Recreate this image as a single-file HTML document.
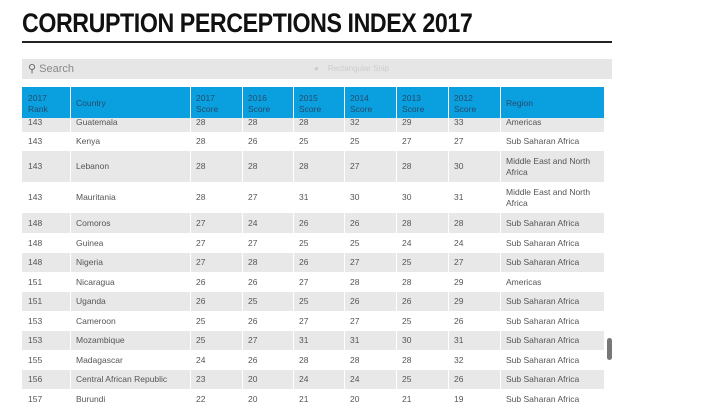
<!DOCTYPE html><html><head><style>
body{margin:0;width:720px;height:406px;overflow:hidden;background:#fff;font-family:"Liberation Sans",sans-serif;position:relative}
.t{position:absolute;left:22px;top:8px;font:bold 27px "Liberation Sans Narrow","Liberation Sans",sans-serif;letter-spacing:-0.5px;color:#111;transform:scaleX(0.86);transform-origin:left}
.ul{position:absolute;left:22px;top:41px;width:590px;height:2px;background:#222}
.sb{position:absolute;left:22px;top:59px;width:590px;height:20px;background:#e6e6e6;color:#888;font-size:11px;line-height:20px}
.wrap{position:absolute;left:22px;top:87px;width:582px;height:315px;overflow:hidden}
.r{position:absolute;left:0;width:582px;font-size:8.5px;color:#555}
.r div{position:absolute;top:0;height:100%;display:flex;align-items:center;padding-left:5px;box-sizing:border-box;line-height:11px;border-left:1px solid transparent}
.g{background:#e8e8e8}
.g div{border-left:1px solid #fff}
.h{background:#0aa0e0;color:#244a6a;top:0;height:31px;z-index:2}
.h div{border-left:1px solid #fff;padding-top:2px}
</style></head><body>
<div class="t">CORRUPTION PERCEPTIONS INDEX 2017</div>
<div class="ul"></div>
<div class="sb"><span style="margin-left:6px;color:#666">&#9906;</span> Search<span style="position:absolute;left:292px;color:#ccc;font-size:8px">&#9679;&nbsp;&nbsp;&nbsp; Rectangular Snip</span></div>
<div class="wrap" id="w"></div>
<div style="position:absolute;left:607px;top:338px;width:5px;height:22px;background:#777;border-radius:3px"></div>
<script>
var xs=[0,48,168,220,271,322,374,426,478,582];
function row(top,h,cells,cls){var d=document.createElement('div');d.className='r '+cls;d.style.top=top+'px';d.style.height=h+'px';
for(var i=0;i<9;i++){var c=document.createElement('div');c.style.left=xs[i]+'px';c.style.width=(xs[i+1]-xs[i])+'px';c.innerHTML=cells[i];if(i==0)c.style.borderLeft='1px solid transparent';d.appendChild(c);}
document.getElementById('w').appendChild(d);}
row(0,31,['2017<br>Rank','Country','2017<br>Score','2016<br>Score','2015<br>Score','2014<br>Score','2013<br>Score','2012<br>Score','Region'],'h');
var data=[
[25,20,'143','Guatemala','28','28','28','32','29','33','Americas'],
[44,20,'143','Kenya','28','26','25','25','27','27','Sub Saharan Africa'],
[64,31,'143','Lebanon','28','28','28','27','28','30','Middle East and North<br>Africa'],
[95,31,'143','Mauritania','28','27','31','30','30','31','Middle East and North<br>Africa'],
[126,20,'148','Comoros','27','24','26','26','28','28','Sub Saharan Africa'],
[146,20,'148','Guinea','27','27','25','25','24','24','Sub Saharan Africa'],
[166,19,'148','Nigeria','27','28','26','27','25','27','Sub Saharan Africa'],
[185,20,'151','Nicaragua','26','26','27','28','28','29','Americas'],
[205,19,'151','Uganda','26','25','25','26','26','29','Sub Saharan Africa'],
[224,20,'153','Cameroon','25','26','27','27','25','26','Sub Saharan Africa'],
[244,19,'153','Mozambique','25','27','31','31','30','31','Sub Saharan Africa'],
[263,20,'155','Madagascar','24','26','28','28','28','32','Sub Saharan Africa'],
[283,19,'156','Central African Republic','23','20','24','24','25','26','Sub Saharan Africa'],
[302,20,'157','Burundi','22','20','21','20','21','19','Sub Saharan Africa']];
data.forEach(function(r,i){row(r[0],r[1],r.slice(2),i%2==0?'g':'');});
</script>
</body></html>
